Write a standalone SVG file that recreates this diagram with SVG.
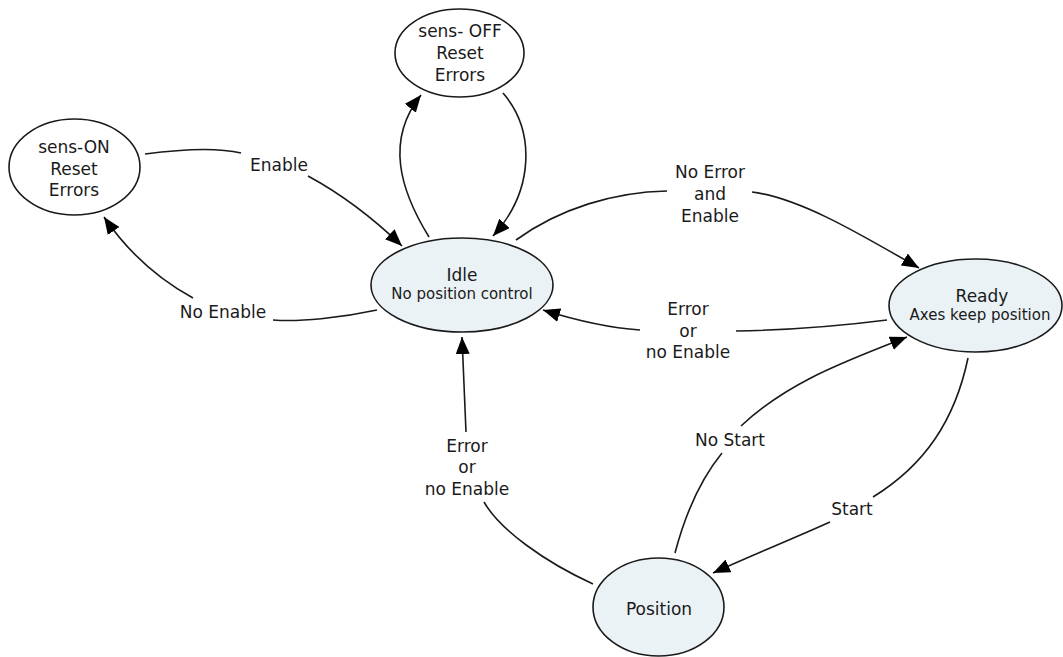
<svg xmlns="http://www.w3.org/2000/svg" width="1063" height="657" viewBox="0 0 1063 657">
<style>
.node{stroke:#1a1a1a;stroke-width:1.6}
.w{fill:#ffffff}
.b{fill:#eaf2f6}
text{font-family:"DejaVu Sans",Verdana,sans-serif;fill:#1a1a1a;text-anchor:middle}
.t{font-size:17px}
.s{font-size:15px}
.c{fill:none;stroke:#1a1a1a;stroke-width:1.6}
.a{marker-end:url(#arr)}
</style>
<defs>
<marker id="arr" markerUnits="userSpaceOnUse" markerWidth="18" markerHeight="14" refX="17" refY="7" orient="auto">
<path d="M0,0 L17,7 L0,14 z" fill="#000"/>
</marker>
</defs>
<rect width="1063" height="657" fill="#fff"/>
<g id="connectors">
<g id="e-enable">
<path class="c" d="M145,154 C 190,148 220,148 241,153"/>
<path class="c a" d="M308,176 C 345,196 375,220 402,246"/>
</g>
<g id="e-noenable">
<path class="c" d="M377,310 C 340,318 300,322 273,320"/>
<path class="c a" d="M193,298 C 160,280 130,255 104,217"/>
</g>
<g id="e-idle-off">
<path class="c a" d="M429,237 C 400,190 385,140 421,95"/>
</g>
<g id="e-off-idle">
<path class="c a" d="M503,93 C 535,130 535,190 493,236"/>
</g>
<g id="e-idle-ready">
<path class="c" d="M516,240 C 560,208 615,192 667,191"/>
<path class="c a" d="M752,192 C 800,198 860,234 919,268"/>
</g>
<g id="e-ready-idle">
<path class="c" d="M887,320 C 840,326 790,330 736,331"/>
<path class="c a" d="M640,330 C 610,328 575,320 543,310"/>
</g>
<g id="e-pos-idle">
<path class="c" d="M593,584 C 545,562 500,530 484,502"/>
<path class="c a" d="M466,432 L462,337"/>
</g>
<g id="e-pos-ready">
<path class="c" d="M675,553 C 685,515 700,480 722,453"/>
<path class="c a" d="M741,426 C 790,380 850,360 907,337"/>
</g>
<g id="e-ready-pos">
<path class="c" d="M968,358 C 955,420 925,465 873,497"/>
<path class="c a" d="M830,522 C 790,540 750,556 713,573"/>
</g>
</g>
<g id="labels">
<text class="t" x="279" y="171">Enable</text>
<text class="t" x="223" y="318">No Enable</text>
<text class="t" x="710" y="178">No Error</text>
<text class="t" x="710" y="200">and</text>
<text class="t" x="710" y="222">Enable</text>
<text class="t" x="688" y="315">Error</text>
<text class="t" x="688" y="337">or</text>
<text class="t" x="688" y="358">no Enable</text>
<text class="t" x="467" y="452">Error</text>
<text class="t" x="467" y="473">or</text>
<text class="t" x="467" y="495">no Enable</text>
<text class="t" x="730" y="446">No Start</text>
<text class="t" x="852" y="515">Start</text>
</g>
<g id="n-senson">
<ellipse class="node w" cx="74.5" cy="167" rx="65.5" ry="48"/>
<text class="t" x="74" y="153">sens-ON</text>
<text class="t" x="74" y="174.5">Reset</text>
<text class="t" x="74" y="196">Errors</text>
</g>
<g id="n-sensoff">
<ellipse class="node w" cx="459.5" cy="53" rx="64.5" ry="44"/>
<text class="t" x="460" y="37">sens- OFF</text>
<text class="t" x="460" y="59">Reset</text>
<text class="t" x="460" y="81">Errors</text>
</g>
<g id="n-idle">
<ellipse class="node b" cx="462" cy="285" rx="91" ry="47"/>
<text class="t" x="462" y="281">Idle</text>
<text class="s" x="462" y="299">No position control</text>
</g>
<g id="n-ready">
<ellipse class="node b" cx="975.5" cy="305.5" rx="86.5" ry="46.5"/>
<text class="t" x="982" y="302">Ready</text>
<text class="s" x="980" y="320">Axes keep position</text>
</g>
<g id="n-position">
<ellipse class="node b" cx="658.5" cy="607" rx="65.5" ry="49"/>
<text class="t" x="659" y="615">Position</text>
</g>
</svg>
